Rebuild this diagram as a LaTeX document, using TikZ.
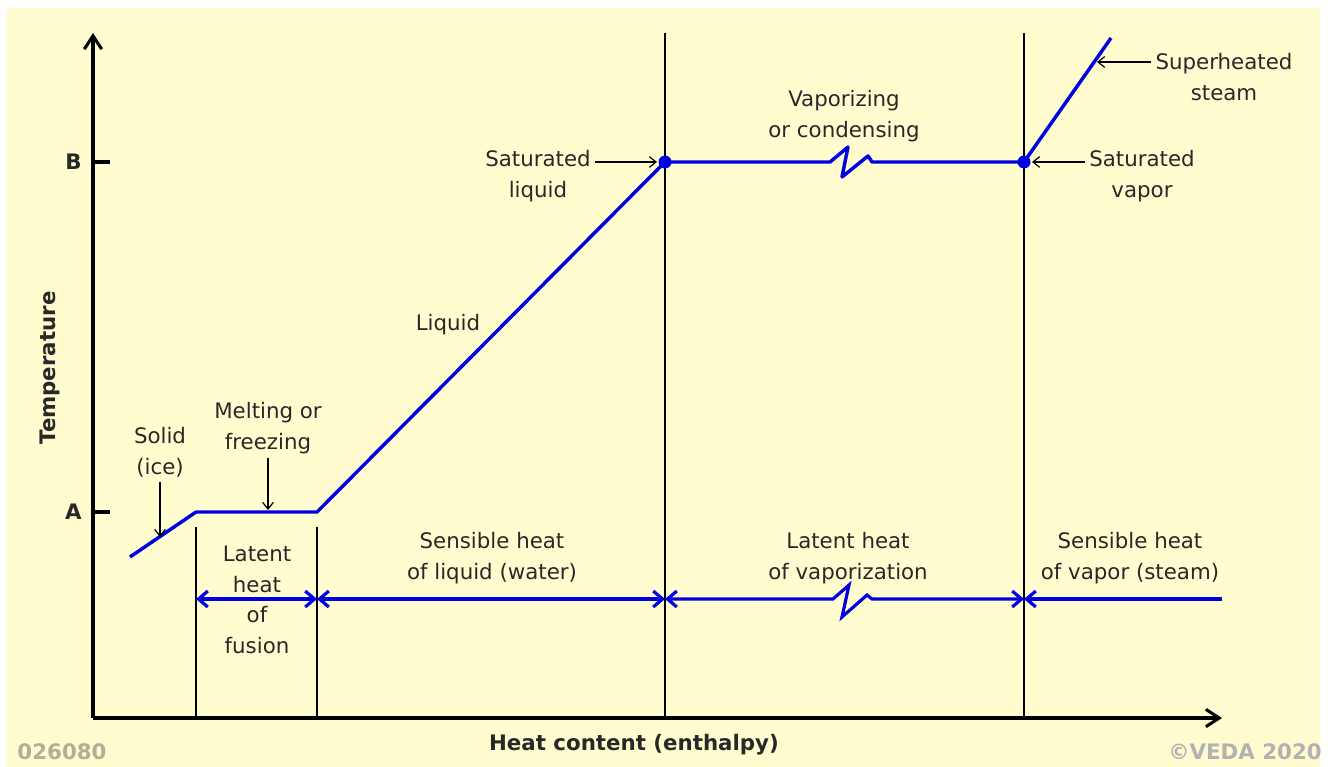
\documentclass[tikz,border=0pt]{standalone}
\usepackage{fontspec}
\setmainfont{DejaVu Sans}
\usetikzlibrary{arrows.meta}
\definecolor{paper}{RGB}{255,253,207}
\definecolor{curveblue}{RGB}{0,0,225}
\definecolor{txt}{RGB}{40,40,40}
\definecolor{stamp}{RGB}{176,176,150}

\begin{document}
\begin{tikzpicture}[x=.75pt,y=-.75pt,
		every node/.style={font=\fontsize{16}{23}\selectfont,text=txt,align=center},
		axis/.style={line width=2.3pt,-{Straight Barb[length=10pt,width=13pt]}},
		guide/.style={line width=.9pt},
		curve/.style={curveblue,line width=2.6pt,line join=round},
		dim/.style={curveblue,line width=2.4pt},
		bandtip/.tip={Straight Barb[length=7pt,width=12pt]},
		callout/.style={line width=.9pt,-{Straight Barb[length=5pt,width=8pt]}},
		bold/.style={font=\fontsize{16}{23}\selectfont\bfseries}]
		\useasboundingbox (0,0) rectangle (1328,767);
		\fill[paper] (7,8) rectangle (1320,767);
		% axes
		\coordinate (O) at (93,718);
		\coordinate (ytop) at (93,33);
		\coordinate (xend) at (1222,718);
		\draw[axis] (O) -- (ytop);
		\draw[axis] (O) -- (xend);
		\draw[line width=2.3pt] (93,512) -- (110,512) node[bold,pos=0,left=4pt] (labA) {A};
		\draw[line width=2.3pt] (93,162) -- (110,162) node[bold,pos=0,left=4pt] (labB) {B};
		\node[bold,rotate=90] (ylab) at (50,368) {Temperature};
		\node[bold] (xlab) at (634,745) {Heat content (enthalpy)};
		% phase boundaries
		\foreach \x/\y in {196/527,317/527,665/33,1024/33}
			\draw[guide] (\x,\y) -- (\x,718);
		% heating curve
		\coordinate (ice) at (130,557);
		\coordinate (mA) at (196,512);
		\coordinate (mB) at (317,512);
		\coordinate (sl) at (665,162);
		\coordinate (sv) at (1024,162);
		\coordinate (steam) at (1111,38);
		\draw[curve] (ice) -- (mA) -- (mB) -- (sl) -- (830,162) -- (848,147) -- (842,177) -- (868,156) -- (872,162) -- (sv) -- (steam);
		\fill[curveblue] (sl) circle (6.5) (sv) circle (6.5);
		% heat bands
		\coordinate (d0) at (196,599);
		\coordinate (d1) at (317,599);
		\coordinate (d2) at (665,599);
		\coordinate (d3) at (1024,599);
		\coordinate (d4) at (1222,599);
		\draw[dim,bandtip-bandtip] (d0) -- (d1);
		\draw[dim,bandtip-bandtip] (d1) -- (d2);
		\draw[dim,bandtip-bandtip] (d2) -- (833,599) -- (849,585) -- (842,617) -- (867,595) -- (872,599) -- (d3);
		\draw[dim,bandtip-] (d3) -- (d4);
		% labels
		\node (solid) at (160,452) {Solid\\(ice)};
		\coordinate (iceP) at (160,537);
		\draw[callout] (solid.south) -- (iceP);
		\node (melt) at (268,428) {Melting or\\freezing};
		\coordinate (meltP) at (268,510);
		\draw[callout] (melt.south) -- (meltP);
		\node (liquid) at (448,325) {Liquid};
		\node (satl) at (538,176) {Saturated\\liquid};
		\draw[callout,shorten >=6pt] (satl.east |- sl) -- (sl);
		\node (vapz) at (844,116) {Vaporizing\\or condensing};
		\node (satv) at (1142,176) {Saturated\\vapor};
		\draw[callout,shorten >=6pt] (satv.west |- sv) -- (sv);
		\coordinate (supP) at (1097,62);
		\node (sup) at (1224,77) {Superheated\\steam};
		\draw[callout] (sup.west |- supP) -- (supP);
		\node (fusion) at (257,600) {Latent\\heat\\of\\fusion};
		\node (sensL) at (492,558) {Sensible heat\\of liquid (water)};
		\node (latV) at (848,558) {Latent heat\\of vaporization};
		\node (sensV) at (1130,558) {Sensible heat\\of vapor (steam)};
		\node[bold,text=stamp] (code) at (62,752) {026080};
		\node[bold,text=black!30] (copy) at (1245,752) {©VEDA 2020};
	\end{tikzpicture}
\end{document}
